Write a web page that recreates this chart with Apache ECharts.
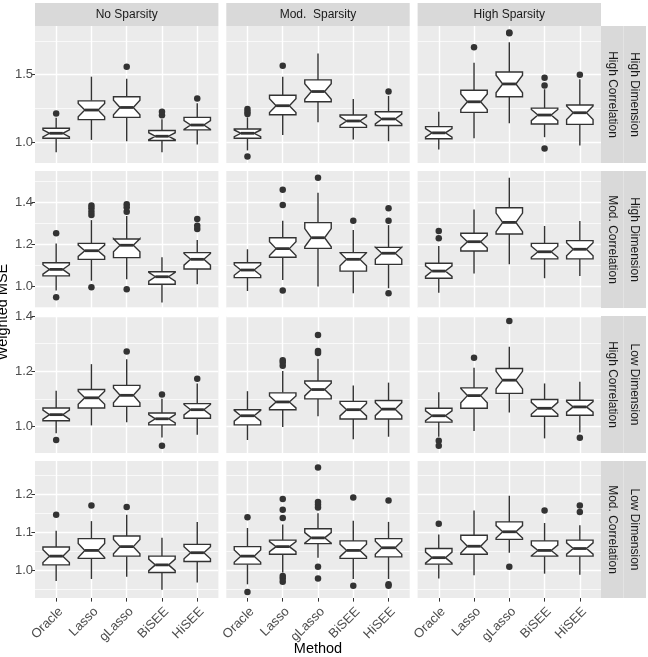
<!DOCTYPE html>
<html>
<head>
<meta charset="utf-8">
<script src="https://cdn.jsdelivr.net/npm/echarts@6.0.0/dist/echarts.min.js"></script>
<style>
  html, body { margin: 0; padding: 0; background: #fff; }
  #chart { width: 648px; height: 657px; }
</style>
</head>
<body>
<div id="chart"></div>
<script>
const methods = ['Oracle', 'Lasso', 'gLasso', 'BiSEE', 'HiSEE'];
const sparsity = ['No Sparsity', 'Mod.  Sparsity', 'High Sparsity'];
const dimension = ['High Dimension', 'High Dimension', 'Low Dimension', 'Low Dimension'];
const correlation = ['High Correlation', 'Mod. Correlation', 'High Correlation', 'Mod. Correlation'];

// each box: [lower whisker, Q1, median, Q3, upper whisker]; one list per sparsity column
const statsHighDimHighCorr = [
  [[0.926, 1.029, 1.066, 1.103, 1.18], [1.017, 1.167, 1.238, 1.306, 1.485], [1.007, 1.184, 1.257, 1.336, 1.47], [0.926, 1.012, 1.044, 1.086, 1.17], [0.983, 1.091, 1.127, 1.184, 1.289]],
  [[0.939, 1.029, 1.066, 1.098, 1.184], [1.054, 1.203, 1.27, 1.348, 1.485], [1.147, 1.299, 1.375, 1.461, 1.657], [1.02, 1.11, 1.157, 1.201, 1.319], [1.007, 1.123, 1.172, 1.225, 1.343]],
  [[0.946, 1.025, 1.069, 1.115, 1.225], [1.029, 1.221, 1.299, 1.385, 1.588], [1.14, 1.336, 1.431, 1.52, 1.74], [1.037, 1.135, 1.201, 1.252, 1.392], [0.975, 1.132, 1.218, 1.275, 1.466]]
];
const outHighDimHighCorr = [
  [[1.213], [], [1.559], [1.2, 1.225], [1.324]],
  [[1.208, 1.225, 1.245, 0.895], [1.566], [], [], [1.375]],
  [[], [1.703], [1.806, 1.812], [1.42, 1.477, 0.953], [1.5]]
];

const statsHighDimModCorr = [
  [[0.978, 1.048, 1.079, 1.111, 1.203], [1.025, 1.127, 1.168, 1.203, 1.314], [1.032, 1.135, 1.194, 1.224, 1.333], [0.921, 1.008, 1.044, 1.068, 1.137], [1.008, 1.081, 1.127, 1.159, 1.219]],
  [[0.976, 1.04, 1.076, 1.111, 1.175], [1.029, 1.137, 1.178, 1.23, 1.311], [0.997, 1.179, 1.23, 1.302, 1.444], [0.965, 1.071, 1.127, 1.159, 1.267], [0.989, 1.103, 1.156, 1.184, 1.29]],
  [[0.968, 1.037, 1.071, 1.108, 1.19], [1.06, 1.167, 1.211, 1.251, 1.365], [1.103, 1.248, 1.303, 1.373, 1.516], [1.037, 1.129, 1.163, 1.203, 1.286], [1.048, 1.129, 1.175, 1.216, 1.31]]
];
const outHighDimModCorr = [
  [[1.251, 0.946], [1.338, 1.354, 1.37, 1.383, 0.994], [1.354, 1.375, 1.389, 0.984], [], [1.271, 1.287, 1.319]],
  [[], [1.386, 1.459, 0.978], [1.516], [1.311], [1.311, 1.37, 0.965]],
  [[1.227, 1.262], [], [], [], []]
];

const statsLowDimHighCorr = [
  [[0.976, 1.021, 1.043, 1.067, 1.13], [1.004, 1.067, 1.104, 1.134, 1.226], [1.015, 1.073, 1.113, 1.149, 1.244], [0.96, 1.006, 1.028, 1.049, 1.101], [0.97, 1.03, 1.061, 1.083, 1.156]],
  [[0.951, 1.006, 1.039, 1.061, 1.128], [0.998, 1.061, 1.089, 1.122, 1.201], [1.037, 1.1, 1.134, 1.165, 1.246], [0.954, 1.027, 1.061, 1.091, 1.149], [0.963, 1.027, 1.063, 1.094, 1.159]],
  [[0.963, 1.016, 1.039, 1.066, 1.124], [0.984, 1.066, 1.112, 1.14, 1.213], [1.051, 1.12, 1.168, 1.21, 1.289], [0.957, 1.037, 1.066, 1.098, 1.156], [0.978, 1.041, 1.071, 1.095, 1.162]]
];
const outLowDimHighCorr = [
  [[0.951], [], [1.272], [1.116, 0.93], [1.173]],
  [[], [1.22, 1.232, 1.24], [1.266, 1.274, 1.332], [], []],
  [[0.948, 0.93], [1.249], [1.382], [], [0.959]]
];

const statsLowDimModCorr = [
  [[0.972, 1.014, 1.037, 1.061, 1.104], [0.977, 1.031, 1.052, 1.083, 1.129], [0.983, 1.037, 1.062, 1.09, 1.146], [0.949, 0.994, 1.014, 1.037, 1.085], [0.968, 1.023, 1.046, 1.068, 1.127]],
  [[0.963, 1.016, 1.037, 1.062, 1.111], [0.994, 1.042, 1.062, 1.079, 1.12], [1.033, 1.07, 1.085, 1.109, 1.15], [0.977, 1.031, 1.052, 1.077, 1.13], [0.977, 1.035, 1.059, 1.083, 1.127]],
  [[0.978, 1.016, 1.033, 1.057, 1.094], [0.987, 1.042, 1.063, 1.092, 1.157], [1.046, 1.081, 1.101, 1.127, 1.196], [0.991, 1.037, 1.052, 1.077, 1.124], [0.988, 1.037, 1.057, 1.079, 1.118]]
];
const outLowDimModCorr = [
  [[1.146], [1.17], [1.166], [], []],
  [[1.139, 0.943], [1.137, 1.159, 1.187, 0.985, 0.978, 0.97], [1.165, 1.172, 1.179, 1.27, 1.009, 0.978], [1.191, 0.959], [1.183, 0.963, 0.959]],
  [[1.122], [], [1.009], [1.157], [1.153, 1.17]]
];

// y scale per facet row, and tick values
const yRange = [[0.846, 1.86], [0.895, 1.548], [0.904, 1.4005], [0.927, 1.287]];
const yMajor = [[1.0, 1.5], [1.0, 1.2, 1.4], [1.0, 1.2, 1.4], [1.0, 1.1, 1.2]];
const yMinor = [[1.25, 1.75], [0.9, 1.1, 1.3, 1.5], [1.1, 1.3], [0.95, 1.05, 1.15, 1.25]];

const SAMPLE_N = 20; // notch = median +/- 1.58 * IQR / sqrt(n)
const BOX_WIDTH = 0.75;
const NOTCH_WIDTH = 0.5;
const INK = '#333333';
const FONT = '"Liberation Sans", Arial, sans-serif';
const TICK_FONT = 13;
const STRIP_FONT = 12;
const TITLE_FONT = 14.5;

const PANEL_LEFT = [35, 226.3, 417.6];
const PANEL_W = 183.4;
const PANEL_TOP = [26, 171, 316, 461];
const PANEL_H = 137;

const rows = [
  { stats: statsHighDimHighCorr, outliers: outHighDimHighCorr },
  { stats: statsHighDimModCorr, outliers: outHighDimModCorr },
  { stats: statsLowDimHighCorr, outliers: outLowDimHighCorr },
  { stats: statsLowDimModCorr, outliers: outLowDimModCorr }
];
const catPos = methods.map((m, i) => i + 1);

function renderBox(params, api) {
  const x = api.value(0);
  const lo = api.value(1), q1 = api.value(2), med = api.value(3), q3 = api.value(4), hi = api.value(5);
  const nLo = api.value(6), nHi = api.value(7);
  const hw = BOX_WIDTH / 2;
  const nw = hw * NOTCH_WIDTH;
  const pt = (dx, v) => api.coord([x + dx, v]);
  const top = pt(0, hi), q3c = pt(0, q3), q1c = pt(0, q1), bot = pt(0, lo);
  const mL = pt(-nw, med), mR = pt(nw, med);
  const poly = [
    pt(-hw, q1), pt(-hw, nLo), mL, pt(-hw, nHi), pt(-hw, q3),
    pt(hw, q3), pt(hw, nHi), mR, pt(hw, nLo), pt(hw, q1)
  ];
  const ls = { stroke: INK, lineWidth: 1.4 };
  return {
    type: 'group',
    children: [
      { type: 'line', shape: { x1: top[0], y1: top[1], x2: q3c[0], y2: q3c[1] }, style: ls },
      { type: 'line', shape: { x1: q1c[0], y1: q1c[1], x2: bot[0], y2: bot[1] }, style: ls },
      { type: 'polygon', shape: { points: poly }, style: { fill: '#ffffff', stroke: INK, lineWidth: 1.4, lineJoin: 'miter' } },
      { type: 'line', shape: { x1: mL[0], y1: mL[1], x2: mR[0], y2: mR[1] }, style: { stroke: INK, lineWidth: 2.8 } }
    ]
  };
}

function textStyle(text, size, fill) {
  return {
    text: text, fill: fill, font: size + 'px ' + FONT,
    align: 'center', verticalAlign: 'middle', textAlign: 'center', textVerticalAlign: 'middle'
  };
}

const grids = [], xAxes = [], yAxes = [], series = [], graphics = [];

rows.forEach((row, r) => {
  for (let c = 0; c < 3; c++) {
    const idx = r * 3 + c;
    grids.push({
      left: PANEL_LEFT[c], top: PANEL_TOP[r], width: PANEL_W, height: PANEL_H,
      show: true, backgroundColor: '#EBEBEB', borderWidth: 0
    });
    xAxes.push({
      gridIndex: idx, type: 'value', min: 0.4, max: 5.6,
      axisLine: { show: false }, splitLine: { show: false },
      axisTick: { show: r === 3, customValues: catPos, length: 3.6, lineStyle: { color: INK, width: 1 } },
      axisLabel: {
        show: r === 3, customValues: catPos, rotate: 45, margin: 7,
        align: 'right', verticalAlign: 'top',
        color: '#4D4D4D', fontSize: TICK_FONT, fontFamily: FONT,
        formatter: v => methods[Math.round(v) - 1]
      }
    });
    yAxes.push({
      gridIndex: idx, type: 'value', min: yRange[r][0], max: yRange[r][1],
      axisLine: { show: false }, splitLine: { show: false },
      axisTick: { show: c === 0, customValues: yMajor[r], length: 3.6, lineStyle: { color: INK, width: 1 } },
      axisLabel: {
        show: c === 0, customValues: yMajor[r], margin: 2,
        color: '#4D4D4D', fontSize: TICK_FONT, fontFamily: FONT,
        formatter: v => v.toFixed(1)
      }
    });

    const lines = []
      .concat(yMinor[r].map(v => ({ yAxis: v, lineStyle: { color: '#ffffff', width: 0.7, type: 'solid' } })))
      .concat(yMajor[r].map(v => ({ yAxis: v, lineStyle: { color: '#ffffff', width: 1.4, type: 'solid' } })))
      .concat(catPos.map(v => ({ xAxis: v, lineStyle: { color: '#ffffff', width: 1.4, type: 'solid' } })));
    series.push({
      type: 'scatter', xAxisIndex: idx, yAxisIndex: idx, data: [], silent: true, z: 1,
      markLine: {
        silent: true, symbol: ['none', 'none'], z: 1, animation: false,
        label: { show: false }, emphasis: { disabled: true }, data: lines
      }
    });

    const stats = row.stats[c];
    series.push({
      type: 'custom', xAxisIndex: idx, yAxisIndex: idx, z: 3, silent: true,
      renderItem: renderBox,
      encode: { x: 0, y: [1, 2, 3, 4, 5] },
      data: stats.map((s, i) => {
        const half = 1.58 * (s[3] - s[1]) / Math.sqrt(SAMPLE_N);
        return [catPos[i]].concat(s, [s[2] - half, s[2] + half]);
      })
    });

    const pts = [];
    row.outliers[c].forEach((list, i) => list.forEach(v => pts.push([catPos[i], v])));
    series.push({
      type: 'scatter', xAxisIndex: idx, yAxisIndex: idx, z: 4, silent: true,
      symbolSize: 6.5, itemStyle: { color: INK, opacity: 1 }, data: pts
    });
  }

  // right-hand strips
  const cy = PANEL_TOP[r] + PANEL_H / 2;
  graphics.push(
    { type: 'rect', silent: true, shape: { x: 601, y: PANEL_TOP[r], width: 22.5, height: PANEL_H }, style: { fill: '#D9D9D9' } },
    { type: 'rect', silent: true, shape: { x: 623.5, y: PANEL_TOP[r], width: 22.5, height: PANEL_H }, style: { fill: '#D9D9D9' } },
    { type: 'text', silent: true, x: 612.3, y: cy, rotation: -Math.PI / 2, style: textStyle(correlation[r], STRIP_FONT, '#1A1A1A') },
    { type: 'text', silent: true, x: 634.8, y: cy, rotation: -Math.PI / 2, style: textStyle(dimension[r], STRIP_FONT, '#1A1A1A') }
  );
});

// top strips
sparsity.forEach((s, c) => {
  graphics.push(
    { type: 'rect', silent: true, shape: { x: PANEL_LEFT[c], y: 3, width: PANEL_W, height: 23 }, style: { fill: '#D9D9D9' } },
    { type: 'text', silent: true, x: PANEL_LEFT[c] + PANEL_W / 2, y: 14.5, style: textStyle(s, STRIP_FONT, '#1A1A1A') }
  );
});

// axis titles
graphics.push(
  { type: 'text', silent: true, x: 318, y: 649, style: textStyle('Method', TITLE_FONT, '#000000') },
  { type: 'text', silent: true, x: 3, y: 312, rotation: Math.PI / 2, style: textStyle('Weighted MSE', TITLE_FONT, '#000000') }
);

const chart = echarts.init(document.getElementById('chart'), null, { renderer: 'canvas' });
chart.setOption({
  animation: false,
  backgroundColor: '#ffffff',
  grid: grids,
  xAxis: xAxes,
  yAxis: yAxes,
  series: series,
  graphic: { elements: graphics }
});
</script>
</body>
</html>
